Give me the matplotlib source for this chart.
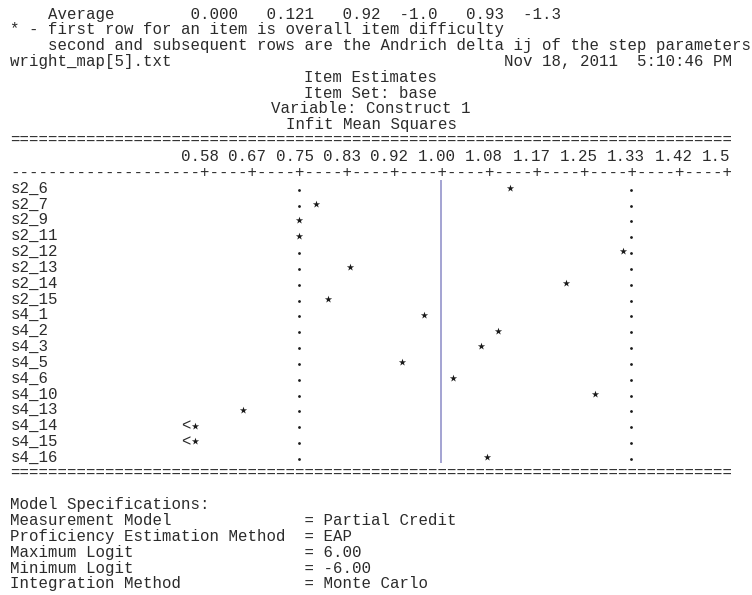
import matplotlib
matplotlib.use('Agg')
import matplotlib.pyplot as plt

plt.rcParams['font.family'] = ['Liberation Mono', 'DejaVu Sans Mono']

# item infit mean squares (read from the ConQuest output)
items = ['s2_6', 's2_7', 's2_9', 's2_11', 's2_12', 's2_13', 's2_14', 's2_15',
         's4_1', 's4_2', 's4_3', 's4_5', 's4_6', 's4_10', 's4_13', 's4_14',
         's4_15', 's4_16']
infit = [1.12, 0.78, 0.75, 0.75, 1.32, 0.84, 1.22, 0.80,
         0.97, 1.10, 1.07, 0.93, 1.02, 1.27, 0.65, 0.567,
         0.567, 1.08]
ci_low = [0.75, 0.75, 0.75, 0.75, 0.75, 0.75, 0.75, 0.75, 0.75,
          0.75, 0.75, 0.75, 0.75, 0.75, 0.75, 0.75, 0.75, 0.75]
ci_high = [1.333, 1.333, 1.333, 1.333, 1.333, 1.333, 1.333, 1.333, 1.333,
           1.333, 1.333, 1.333, 1.333, 1.333, 1.333, 1.333, 1.333, 1.333]
tick_vals = [0.5833, 0.6667, 0.75, 0.8333, 0.9167, 1.0, 1.0833, 1.1667,
             1.25, 1.3333, 1.4167, 1.5]
tick_labels = ['0.58', '0.67', '0.75', '0.83', '0.92', '1.00', '1.08',
               '1.17', '1.25', '1.33', '1.42', '1.5']

header = [
    '    Average        0.000   0.121   0.92  -1.0   0.93  -1.3',
    '* - first row for an item is overall item difficulty',
    '    second and subsequent rows are the Andrich delta ij of the step parameters',
    'wright_map[5].txt' + ' ' * 35 + 'Nov 18, 2011  5:10:46 PM',
]
titles = ['Item Estimates', 'Item Set: base', 'Variable: Construct 1',
          'Infit Mean Squares']
specs = [
    'Model Specifications:',
    'Measurement Model              = Partial Credit',
    'Proficiency Estimation Method  = EAP',
    'Maximum Logit                  = 6.00',
    'Minimum Logit                  = -6.00',
    'Integration Method             = Monte Carlo',
]

W, H = 752, 595
cw = 9.47      # character width (px)
x0 = 10.5      # left margin (px)
lh = 15.83     # line height (px)
y0 = 14        # centre of first line (px)
fs = 11.36
tc = '#2b2b2b'

fig = plt.figure(figsize=(W / 100, H / 100), dpi=100)
ax = fig.add_axes([0, 0, 1, 1])
ax.set_xlim(0, W)
ax.set_ylim((H - y0) / lh, -y0 / lh)
ax.axis('off')


def line(k, s, col=0, **kw):
    ax.text(x0 + col * cw, k, s, ha='left', va='center', fontsize=fs,
            color=tc, **kw)


for k, s in enumerate(header):
    line(k, s)
for k, s in enumerate(titles):
    ax.text(371, 4 + k, s, ha='center', va='center', fontsize=fs, color=tc)
line(8, '=' * 76)
line(10, '-' * 20 + '+----' * (len(tick_vals) - 1) + '+')
for i, name in enumerate(items):
    line(11 + i, name)
line(11 + len(items), '=' * 76)
for k, s in enumerate(specs):
    line(31 + k, s)

# map area in infit units
ax_map = fig.add_axes([0, 0, 1, 1])
ppu = 60 * cw
first_px = x0 + 20.5 * cw
ax_map.set_xlim(tick_vals[0] - first_px / ppu, tick_vals[0] + (W - first_px) / ppu)
ax_map.set_ylim(ax.get_ylim())
ax_map.axis('off')

for t, lab in zip(tick_vals, tick_labels):
    ax_map.text(t - 2.5 * cw / ppu, 9, lab, ha='left', va='center',
                fontsize=fs, color=tc)

rows = [11 + i for i in range(len(items))]
ax_map.vlines(1.0, rows[0] - 0.5, rows[-1] + 0.35, color='#9c9ccf', lw=1.3)

half = 0.5 * cw / ppu
for r, v, lo, hi in zip(rows, infit, ci_low, ci_high):
    for d in (lo, hi):
        if abs(v - d) > half:
            ax_map.scatter(d, r + 0.1, s=4, color='#1a1a1a', marker='o',
                           linewidths=0)
    ax_map.scatter(v, r, s=30, marker='*', color='#1a1a1a', linewidths=0)
    if v < tick_vals[0]:
        ax_map.text(v - cw / ppu, r, '<', ha='center', va='center',
                    fontsize=fs, color=tc)

fig.savefig('out.png', dpi=100)
